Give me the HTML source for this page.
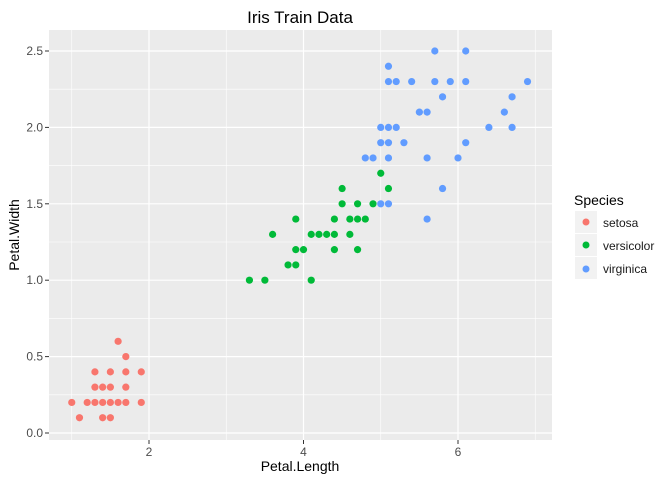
<!DOCTYPE html>
<html><head><meta charset="utf-8"><style>
body{margin:0;background:#fff;font-family:"Liberation Sans",sans-serif;}
</style></head><body>
<svg id="chart" width="672" height="480" xmlns="http://www.w3.org/2000/svg">
<text x="300" y="23" text-anchor="middle" font-size="17" fill="#000">Iris Train Data</text>
<rect x="49" y="30" width="503" height="410" fill="#ebebeb"/>
<g id="grid"></g>
<g id="points"></g>
<g id="axes"></g>
<text x="300" y="471" text-anchor="middle" font-size="14" fill="#000">Petal.Length</text>
<text transform="translate(19,235) rotate(-90)" text-anchor="middle" font-size="14" fill="#000">Petal.Width</text>
<g>
<text x="574" y="205" font-size="14" fill="#000">Species</text>
<g><rect x="575" y="211" width="22" height="22" fill="#f2f2f2"/><circle cx="586" cy="222" r="3.5" fill="#F8766D"/><text x="603" y="227" font-size="12" fill="#1a1a1a">setosa</text></g>
<g><rect x="575" y="234" width="22" height="22" fill="#f2f2f2"/><circle cx="586" cy="245" r="3.5" fill="#00BA38"/><text x="603" y="250" font-size="12" fill="#1a1a1a">versicolor</text></g>
<g><rect x="575" y="257" width="22" height="22" fill="#f2f2f2"/><circle cx="586" cy="269" r="3.5" fill="#619CFF"/><text x="603" y="273" font-size="12" fill="#1a1a1a">virginica</text></g>
</g>
</svg>
<script>
const setosaX=[1.6,1.7,1.3,1.5,1.7,1.9,1.3,1.4,1.5,1.7,1.0,1.2,1.3,1.4,1.5,1.6,1.7,1.9,1.1,1.4,1.5];
const setosaY=[0.6,0.5,0.4,0.4,0.4,0.4,0.3,0.3,0.3,0.3,0.2,0.2,0.2,0.2,0.2,0.2,0.2,0.2,0.1,0.1,0.1];
const versicolorX=[3.3,3.5,4.1,3.8,3.9,3.9,4.0,4.4,4.7,3.6,4.1,4.2,4.3,4.4,4.6,3.9,4.4,4.6,4.7,4.8,4.5,4.7,4.9,4.5,5.1,5.0];
const versicolorY=[1.0,1.0,1.0,1.1,1.1,1.2,1.2,1.2,1.2,1.3,1.3,1.3,1.3,1.3,1.3,1.4,1.4,1.4,1.4,1.4,1.5,1.5,1.5,1.6,1.6,1.7];
const virginicaX=[5.7,6.1,5.1,5.1,5.2,5.4,5.7,5.9,6.1,6.9,5.8,6.7,5.5,5.6,6.6,5.0,5.1,5.2,6.4,6.7,5.0,5.1,5.3,6.1,4.8,4.9,5.1,5.6,6.0,5.8,5.0,5.1,5.6];
const virginicaY=[2.5,2.5,2.4,2.3,2.3,2.3,2.3,2.3,2.3,2.3,2.2,2.2,2.1,2.1,2.1,2.0,2.0,2.0,2.0,2.0,1.9,1.9,1.9,1.9,1.8,1.8,1.8,1.8,1.8,1.6,1.5,1.5,1.4];
const xTicks=[2,4,6];
const yTicks=[0.0,0.5,1.0,1.5,2.0,2.5];
const NS="http://www.w3.org/2000/svg";
const sx=v=>149+(v-2)*77.25;
const sy=v=>433-v*152.8;
const grid=document.getElementById('grid'),pts=document.getElementById('points'),axes=document.getElementById('axes');
function mk(tag,attrs,parent){const e=document.createElementNS(NS,tag);for(const k in attrs)e.setAttribute(k,attrs[k]);parent.appendChild(e);return e;}
// minor grid
for(let i=0;i<xTicks.length+1;i++){const v=xTicks[0]-1+i*2;const x=sx(v);if(x>49&&x<552){const l=mk('line',{x1:x,x2:x,y1:30,y2:440,stroke:'#fff','stroke-width':0.6},grid);

}}
for(let i=0;i<yTicks.length;i++){const v=yTicks[i]+0.25;const y=sy(v);if(y>30&&y<440){const l=mk('line',{x1:49,x2:552,y1:y,y2:y,stroke:'#fff','stroke-width':0.6},grid);

}}
xTicks.forEach(v=>{const x=sx(v);
const l=mk('line',{x1:x,x2:x,y1:30,y2:440,stroke:'#fff','stroke-width':1.2},grid);


mk('line',{x1:x,x2:x,y1:440,y2:444,stroke:'#333'},axes);
const t=mk('text',{x:x,y:456,'text-anchor':'middle','font-size':12,fill:'#4d4d4d'},axes);t.textContent=v;

});
yTicks.forEach(v=>{const y=sy(v);
const l=mk('line',{x1:49,x2:552,y1:y,y2:y,stroke:'#fff','stroke-width':1.2},grid);


mk('line',{x1:45,x2:49,y1:y,y2:y,stroke:'#333'},axes);
const t=mk('text',{x:43,y:y+4,'text-anchor':'end','font-size':12,fill:'#4d4d4d'},axes);t.textContent=v.toFixed(1);

});
function series(xs,ys,col,name){xs.forEach((x,i)=>{const c=mk('circle',{cx:sx(x),cy:sy(ys[i]),r:3.6,fill:col},pts);

});}
series(setosaX,setosaY,'#F8766D','setosa');
series(versicolorX,versicolorY,'#00BA38','versicolor');
series(virginicaX,virginicaY,'#619CFF','virginica');
</script>
</body></html>
